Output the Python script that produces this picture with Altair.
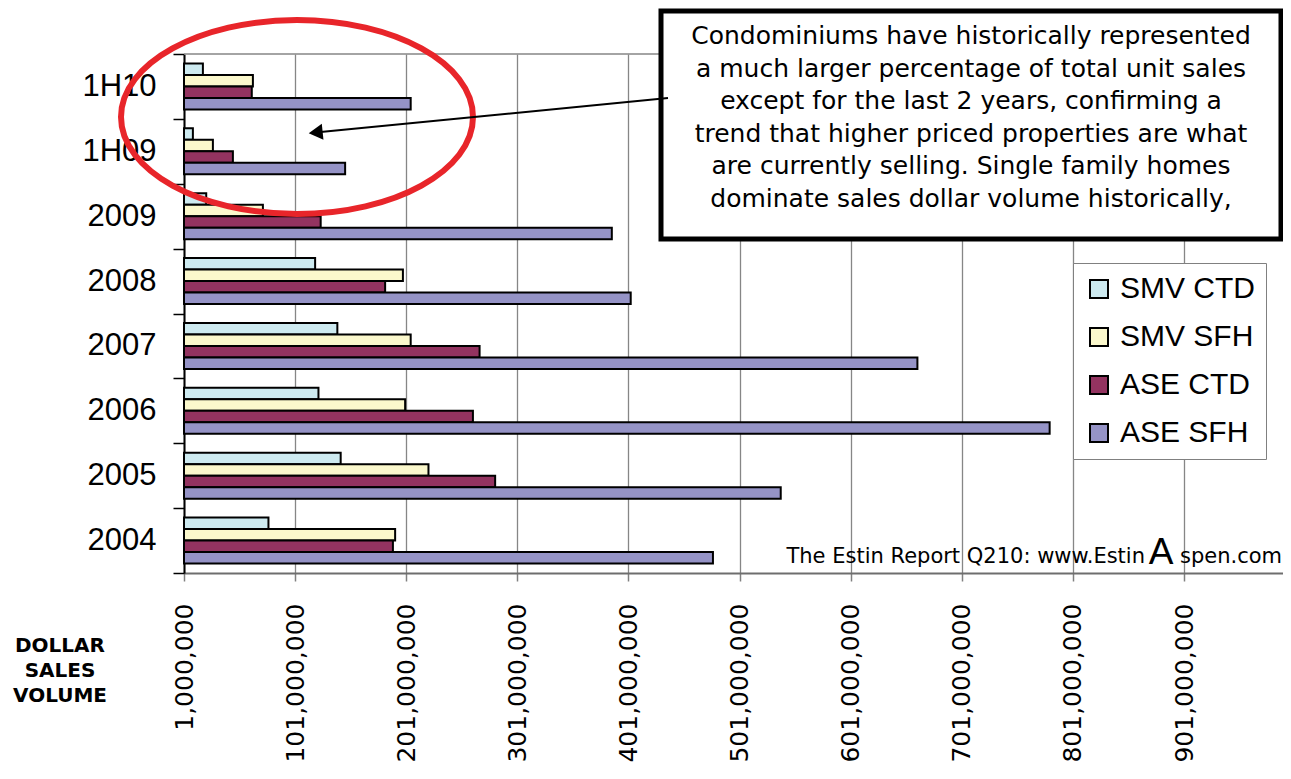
import altair as alt
import pandas as pd

# ---------------- data (values in millions of dollars) ----------------
periods = ["1H10", "1H09", "2009", "2008", "2007", "2006", "2005", "2004"]
series = ["SMV CTD", "SMV SFH", "ASE CTD", "ASE SFH"]
smv_ctd = [18, 9, 21, 119, 139, 122, 142, 77]
smv_sfh = [63, 27, 72, 198, 205, 200, 221, 191]
ase_ctd = [62, 45, 124, 182, 267, 261, 281, 189]
ase_sfh = [205, 146, 386, 403, 661, 780, 538, 477]
colors = ["#cdeaf0", "#fbf8cc", "#933360", "#9593c6"]
tick_values = [1000000, 101000000, 201000000, 301000000, 401000000,
               501000000, 601000000, 701000000, 801000000, 901000000]
axis_min = 1000000
axis_max = 990000000

note_text = ("Condominiums have historically represented\n"
             "a much larger percentage of total unit sales\n"
             "except for the last 2 years, confirming a\n"
             "trend that higher priced properties are what\n"
             "are currently selling. Single family homes\n"
             "dominate sales dollar volume historically,")
source_left = "The Estin Report Q210: www.Estin"
source_mid = "A"
source_right = "spen.com"
axis_title = "DOLLAR\nSALES\nVOLUME"

rows = []
for name, vals in zip(series, [smv_ctd, smv_sfh, ase_ctd, ase_sfh]):
    for p, v in zip(periods, vals):
        rows.append({"period": p, "series": name, "value": v * 1_000_000, "base": axis_min})
df = pd.DataFrame(rows)
one = pd.DataFrame({"a": [0]})

W, H = 1099, 519

bars = alt.Chart(df).mark_bar(stroke="black", strokeWidth=2, opacity=1).encode(
    y=alt.Y("period:N", sort=periods,
            scale=alt.Scale(paddingInner=0, paddingOuter=0),
            axis=alt.Axis(title=None, grid=False, tickBand="extent",
                          domainColor="black", domainWidth=2,
                          tickColor="black", tickWidth=1.5, tickSize=11,
                          labelFont="Liberation Sans", labelFontSize=31,
                          labelColor="black", labelPadding=17)),
    yOffset=alt.YOffset("series:N", sort=series,
                        scale=alt.Scale(paddingInner=0, paddingOuter=0.82)),
    x=alt.X("value:Q",
            scale=alt.Scale(domain=[axis_min, axis_max], zero=False, nice=False),
            axis=alt.Axis(title=None, values=tick_values, format=",d",
                          grid=True, gridColor="#868686", gridWidth=1.3,
                          domainColor="#6e6e6e", domainWidth=2,
                          tickColor="#808080", tickWidth=1.5, tickSize=8,
                          labelAngle=270, labelFont="DejaVu Sans", labelFontSize=25,
                          labelColor="black", labelPadding=22,
                          labelOverlap=False, labelFlush=False)),
    x2="base:Q",
    color=alt.Color("series:N", sort=series,
                    scale=alt.Scale(domain=series, range=colors),
                    legend=alt.Legend(title=None, orient="none", legendX=889, legendY=209,
                                      fillColor="white", strokeColor="#808080",
                                      padding=11, cornerRadius=0,
                                      symbolType="square", symbolSize=324,
                                      symbolStrokeColor="black", symbolStrokeWidth=2,
                                      symbolOpacity=1,
                                      labelFont="Liberation Sans", labelFontSize=30,
                                      labelColor="black", labelOffset=6,
                                      rowPadding=18)),
)

top_border = alt.Chart(one).mark_rule(color="#868686", strokeWidth=1.5).encode(
    x=alt.value(0), x2=alt.value(W + 8), y=alt.value(0))

box = alt.Chart(one).mark_rect(fill="white", stroke="black", strokeWidth=5).encode(
    x=alt.value(477), x2=alt.value(1097), y=alt.value(-43), y2=alt.value(185))

box_text = alt.Chart(one).mark_text(
    align="center", baseline="alphabetic", font="DejaVu Sans", fontSize=25,
    lineHeight=32.5, lineBreak="\n", color="black").encode(
    x=alt.value(787), y=alt.value(-10), text=alt.value(note_text))

ellipse_path = ("M-1,0C-1,-0.3044,-0.5523,-0.551,0,-0.551"
                "C0.5523,-0.551,1,-0.3044,1,0"
                "C1,0.3044,0.5523,0.551,0,0.551"
                "C-0.5523,0.551,-1,0.3044,-1,0Z")
ellipse = alt.Chart(one).mark_point(
    shape=ellipse_path, size=123904, filled=False, stroke="#e8252a",
    strokeWidth=6, opacity=1).encode(x=alt.value(113), y=alt.value(63))

arrow_line = alt.Chart(one).mark_rule(color="black", strokeWidth=2).encode(
    x=alt.value(484), y=alt.value(44), x2=alt.value(134), y2=alt.value(78.3))
arrow_head = alt.Chart(one).mark_point(
    shape="triangle", angle=264, size=260, filled=True, color="black", opacity=1).encode(
    x=alt.value(134), y=alt.value(78.2))

src1 = alt.Chart(one).mark_text(align="right", baseline="alphabetic", font="DejaVu Sans",
                                fontSize=21, color="black").encode(
    x=alt.value(961), y=alt.value(509), text=alt.value(source_left))
src2 = alt.Chart(one).mark_text(align="center", baseline="alphabetic", font="Liberation Sans",
                                fontSize=37, color="black").encode(
    x=alt.value(977), y=alt.value(510), text=alt.value(source_mid))
src3 = alt.Chart(one).mark_text(align="right", baseline="alphabetic", font="DejaVu Sans",
                                fontSize=21, color="black").encode(
    x=alt.value(1098), y=alt.value(509), text=alt.value(source_right))

title_txt = alt.Chart(one).mark_text(align="center", baseline="alphabetic", font="DejaVu Sans",
                                     fontSize=20, fontWeight="bold", lineHeight=25,
                                     lineBreak="\n", color="black").encode(
    x=alt.value(-124), y=alt.value(598), text=alt.value(axis_title))

chart = alt.layer(
    bars, top_border, box, box_text, ellipse, arrow_line, arrow_head,
    src1, src2, src3, title_txt
).properties(
    width=W, height=H,
    padding={"left": 176, "top": 46, "right": 0, "bottom": 195},
    autosize=alt.AutoSizeParams(type="none"),
    background="white",
).configure_view(stroke=None)

chart.save("out.html", embed_options={"renderer": "svg", "actions": False})
